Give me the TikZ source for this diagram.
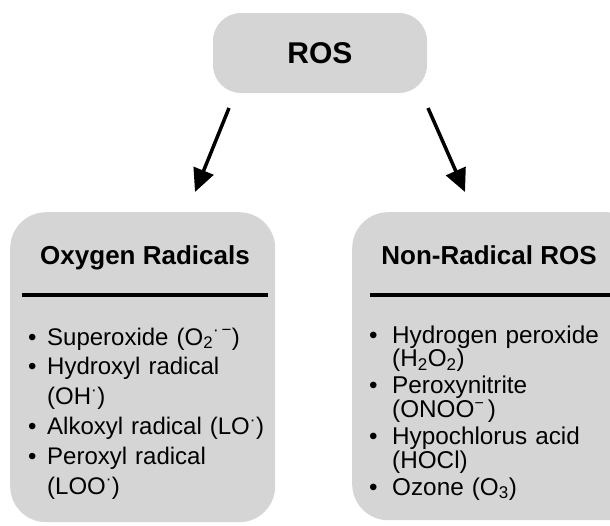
\documentclass[tikz,border=0pt]{standalone}
\usepackage{fontspec}
\setmainfont{Liberation Sans}
\usetikzlibrary{arrows.meta}
\definecolor{boxgray}{RGB}{213,213,213}
\newlength{\hangw}
\newcommand{\bitem}[1]{\hangindent=\hangw\hangafter=1\noindent\makebox[\hangw][l]{\textbullet}#1\par}
\begin{document}
\begin{tikzpicture}[x=1pt,y=-1pt,
  rosbox/.style={fill=boxgray,rounded corners=28pt,minimum width=214pt,minimum height=80pt,inner sep=0pt,font=\fontsize{30}{36}\selectfont\bfseries},
  catbox/.style={fill=boxgray,rounded corners=36pt,inner sep=0pt,anchor=north west},
  head/.style={font=\fontsize{26}{30}\selectfont\bfseries,inner sep=0pt,anchor=base},
  sepline/.style={line width=4pt},
  bigarrow/.style={line width=3.5pt,-{Triangle[length=23pt,width=21pt]}},
  itemlist/.style={inner sep=0pt,anchor=base west,text width=280pt}
]
\useasboundingbox (0,0) rectangle (610,525);
\clip (0,0) rectangle (610,525);
% boxes
\node[rosbox] (ros) at (320,53) {ROS};
\node[catbox,minimum width=265pt,minimum height=310pt] (left) at (10,212) {};
\node[catbox,minimum width=290pt,minimum height=308pt] (right) at (352,212) {};
% headings
\node[head] (lhead) at (145,264) {Oxygen Radicals};
\node[head] (rhead) at (489,264) {Non-Radical ROS};
% separators
\draw[sepline] (22,295) -- (268,295);
\draw[sepline] (370,295) -- (610,295);
% arrows
\coordinate (la) at (229,108);
\coordinate (lb) at (195,192);
\coordinate (ra) at (428,108);
\coordinate (rb) at (465,192);
\draw[bigarrow] (la) -- (lb);
\draw[bigarrow] (ra) -- (rb);
% lists
\node[itemlist,font=\fontsize{24}{29.8}\selectfont] (llist) at (28,345) {\raggedright\setlength{\hangw}{19pt}\parskip=0pt
\bitem{Superoxide (O\textsubscript{2}\textsuperscript{·\,−})}
\bitem{Hydroxyl radical\newline(OH\textsuperscript{·})}
\bitem{Alkoxyl radical (LO\textsuperscript{·})}
\bitem{Peroxyl radical\newline(LOO\textsuperscript{·})}};
\node[itemlist,font=\fontsize{24.3}{23.7}\selectfont] (rlist) at (369,343) {\raggedright\setlength{\hangw}{23pt}\parskip=3.3pt
\bitem{Hydrogen peroxide\newline(H\textsubscript{2}O\textsubscript{2})}
\bitem{Peroxynitrite\newline(ONOO{\fontsize{16}{16}\selectfont\raisebox{9pt}[0pt][0pt]{−}}\,)}
\bitem{Hypochlorus acid\newline(HOCl)}
\bitem{Ozone (O\textsubscript{3})}};
\end{tikzpicture}
\end{document}
